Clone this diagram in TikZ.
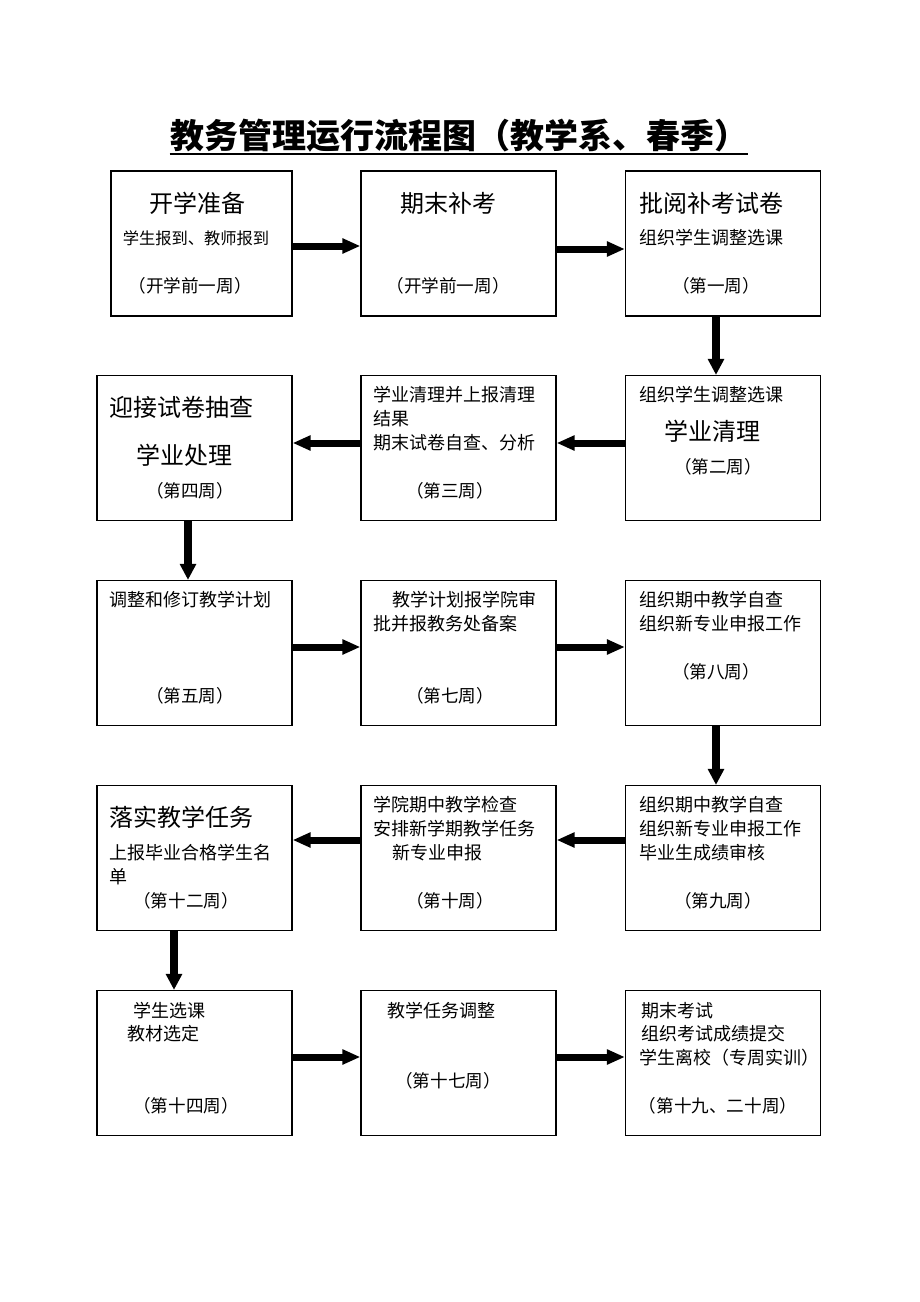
\documentclass[tikz,border=0pt]{standalone}
\usepackage{fontspec}
\setmainfont{Noto Sans CJK SC}
\usetikzlibrary{arrows.meta,positioning,calc}
\newcommand{\weeklbl}[1]{（#1）}

\begin{document}
\begin{tikzpicture}[x=0.75pt,y=0.75pt,yscale=-1,xscale=1,
    stagebox/.style={draw, line width=0.9pt, inner sep=0, minimum width=146.25pt, minimum height=108.75pt},
    bigtxt/.style={font=\fontsize{18}{20}\selectfont, inner sep=0.75pt},
    midtxt/.style={font=\fontsize{13.5}{15}\selectfont, inner sep=0.75pt},
    smltxt/.style={font=\fontsize{12.2}{14}\selectfont, inner sep=0.75pt},
    wktxt/.style={font=\fontsize{13.2}{15}\selectfont, inner sep=0.75pt},
    harrow/.style={line width=5.25pt, -{Triangle[length=13.5pt,width=10.7pt]}},
    varrow/.style={line width=6.5pt, -{Triangle[length=12pt,width=11.7pt]}}]
    \useasboundingbox (0,0) rectangle (920,1302);

    % Title
    \node[font=\fontsize{25.5}{28}\selectfont\bfseries, inner sep=0] (title) at (459,136) {教务管理运行流程图（教学系、春季）};
    \draw[line width=1.4pt] ($(title.south west)+(0,1)$) -- ($(title.south east)+(0,1)$);

    % Boxes
    \node[stagebox, minimum width=135.75pt] (s1) at (201.5,243.5) {};
    \node[stagebox] (s2) at (458.5,243.5) {};
    \node[stagebox] (s3) at (723,243.5) {};
    \node[stagebox] (s4) at (723,448) {};
    \node[stagebox] (s5) at (458.5,448) {};
    \node[stagebox] (s6) at (194.5,448) {};
    \node[stagebox] (s7) at (194.5,653) {};
    \node[stagebox] (s8) at (458.5,653) {};
    \node[stagebox] (s9) at (723,653) {};
    \node[stagebox] (s10) at (723,858) {};
    \node[stagebox] (s11) at (458.5,858) {};
    \node[stagebox] (s12) at (194.5,858) {};
    \node[stagebox] (s13) at (194.5,1063) {};
    \node[stagebox] (s14) at (458.5,1063) {};
    \node[stagebox] (s15) at (723,1063) {};

    % Text Node
    \node[bigtxt] (s1a) at (197,203) {开学准备};
    \node[smltxt] (s1b) at (196,238) {学生报到、教师报到};
    \node[wktxt] (s1w) at (190,286) {\weeklbl{开学前一周}};
    % Text Node
    \node[bigtxt] (s2a) at (448,203) {期末补考};
    \node[wktxt] (s2w) at (448,286) {\weeklbl{开学前一周}};
    % Text Node
    \node[bigtxt, anchor=west] (s3a) at (638,203) {批阅补考试卷};
    \node[midtxt, anchor=west] (s3b) at (638,238) {组织学生调整选课};
    \node[wktxt] (s3w) at (716,286) {\weeklbl{第一周}};
    % Text Node
    \node[midtxt, anchor=west] (s4a) at (638,395) {组织学生调整选课};
    \node[bigtxt] (s4b) at (712,431) {学业清理};
    \node[wktxt] (s4w) at (718,467) {\weeklbl{第二周}};
    % Text Node
    \node[midtxt, anchor=west] (s5a) at (372,395) {学业清理并上报清理};
    \node[midtxt, anchor=west] (s5b) at (372,419) {结果};
    \node[midtxt, anchor=west] (s5c) at (372,443) {期末试卷自查、分析};
    \node[wktxt] (s5w) at (450,491) {\weeklbl{第三周}};
    % Text Node
    \node[bigtxt, anchor=west] (s6a) at (108,407) {迎接试卷抽查};
    \node[bigtxt] (s6b) at (184,455) {学业处理};
    \node[wktxt] (s6w) at (190,491) {\weeklbl{第四周}};
    % Text Node
    \node[midtxt, anchor=west] (s7a) at (108,600) {调整和修订教学计划};
    \node[wktxt] (s7w) at (190,696) {\weeklbl{第五周}};
    % Text Node
    \node[midtxt, anchor=west] (s8a) at (391,600) {教学计划报学院审};
    \node[midtxt, anchor=west] (s8b) at (372,624) {批并报教务处备案};
    \node[wktxt] (s8w) at (450,696) {\weeklbl{第七周}};
    % Text Node
    \node[midtxt, anchor=west] (s9a) at (638,600) {组织期中教学自查};
    \node[midtxt, anchor=west] (s9b) at (638,624) {组织新专业申报工作};
    \node[wktxt] (s9w) at (716,672) {\weeklbl{第八周}};
    % Text Node
    \node[midtxt, anchor=west] (s10a) at (638,805) {组织期中教学自查};
    \node[midtxt, anchor=west] (s10b) at (638,829) {组织新专业申报工作};
    \node[midtxt, anchor=west] (s10c) at (638,853) {毕业生成绩审核};
    \node[wktxt] (s10w) at (718,901) {\weeklbl{第九周}};
    % Text Node
    \node[midtxt, anchor=west] (s11a) at (372,805) {学院期中教学检查};
    \node[midtxt, anchor=west] (s11b) at (372,829) {安排新学期教学任务};
    \node[midtxt, anchor=west] (s11c) at (391,853) {新专业申报};
    \node[wktxt] (s11w) at (450,901) {\weeklbl{第十周}};
    % Text Node
    \node[bigtxt, anchor=west] (s12a) at (108,817) {落实教学任务};
    \node[midtxt, anchor=west] (s12b) at (108,853) {上报毕业合格学生名};
    \node[midtxt, anchor=west] (s12c) at (108,877) {单};
    \node[wktxt] (s12w) at (186,901) {\weeklbl{第十二周}};
    % Text Node
    \node[midtxt, anchor=west] (s13a) at (132,1011) {学生选课};
    \node[midtxt, anchor=west] (s13b) at (126,1034) {教材选定};
    \node[wktxt] (s13w) at (186,1106) {\weeklbl{第十四周}};
    % Text Node
    \node[midtxt, anchor=west] (s14a) at (386,1011) {教学任务调整};
    \node[wktxt] (s14w) at (448,1081) {\weeklbl{第十七周}};
    % Text Node
    \node[midtxt, anchor=west] (s15a) at (640,1011) {期末考试};
    \node[midtxt, anchor=west] (s15b) at (640,1034) {组织考试成绩提交};
    \node[midtxt, anchor=west] (s15c) at (638,1058) {学生离校（专周实训）};
    \node[wktxt] (s15w) at (718,1106) {\weeklbl{第十九、二十周}};

    % Arrows
    \draw[harrow] ($(s1.east)+(0,2.5)$) -- ($(s2.west)+(0,2.5)$);
    \draw[harrow] ($(s2.east)+(0,5.5)$) -- ($(s3.west)+(0,5.5)$);
    \draw[varrow] ($(s3.south)+(-7,0)$) -- ($(s4.north)+(-7,0)$);
    \draw[harrow] ($(s4.west)+(0,-5)$) -- ($(s5.east)+(0,-5)$);
    \draw[harrow] ($(s5.west)+(0,-5)$) -- ($(s6.east)+(0,-5)$);
    \draw[varrow] ($(s6.south)+(-6.5,0)$) -- ($(s7.north)+(-6.5,0)$);
    \draw[harrow] ($(s7.east)+(0,-6)$) -- ($(s8.west)+(0,-6)$);
    \draw[harrow] ($(s8.east)+(0,-6)$) -- ($(s9.west)+(0,-6)$);
    \draw[varrow] ($(s9.south)+(-7,0)$) -- ($(s10.north)+(-7,0)$);
    \draw[harrow] ($(s10.west)+(0,-18)$) -- ($(s11.east)+(0,-18)$);
    \draw[harrow] ($(s11.west)+(0,-18)$) -- ($(s12.east)+(0,-18)$);
    \draw[varrow] ($(s12.south)+(-20.5,0)$) -- ($(s13.north)+(-20.5,0)$);
    \draw[harrow] ($(s13.east)+(0,-6)$) -- ($(s14.west)+(0,-6)$);
    \draw[harrow] ($(s14.east)+(0,-6)$) -- ($(s15.west)+(0,-6)$);

\end{tikzpicture}
\end{document}
